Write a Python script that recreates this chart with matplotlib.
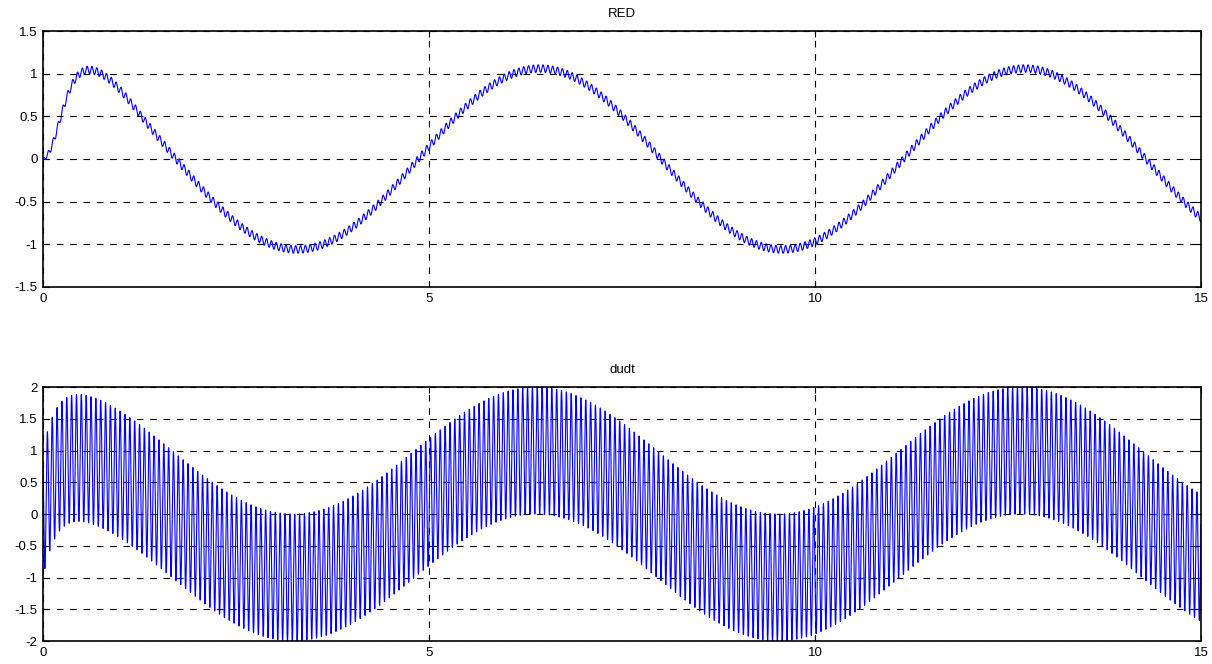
import numpy as np
import matplotlib
matplotlib.use("Agg")
import matplotlib.pyplot as plt

# signal parameters
t_end = 15.0
hf_freq = 100.0            # rad/s, ~0.063 per ripple period

red_amp = 1.06             # slow part of RED
red_lag = 0.15             # troughs at ~3.3, peaks at ~6.45, ends at ~-0.7
red_rise = 0.3             # start-up from 0 to ~1 within t~0.45
red_bump = 0.13            # early overshoot, largest near t~0.8
red_ripple = 0.045         # small ripple on RED

dudt_amp = 1.0             # slow part of dudt (envelope centre)
dudt_lag = 0.1
dudt_rise = 0.16
dudt_hf_amp = 1.0          # envelope spans +-1 around the centre
dudt_hf_phase = 2.24       # starts at ~0.8, first dip ~-0.9

red_yticks = [-1.5, -1, -0.5, 0, 0.5, 1, 1.5]
dudt_yticks = [-2, -1.5, -1, -0.5, 0, 0.5, 1, 1.5, 2]
xticks = [0, 5, 10, 15]

t = np.linspace(0, t_end, 15001)
red = (red_amp * np.cos(t - red_lag) * (1 - np.exp(-(t / red_rise) ** 2))
       + red_bump * np.exp(-((t - 0.8) / 0.45) ** 2)
       + red_ripple * np.sin(hf_freq * t + 1.0) * (1 - np.exp(-t / 0.05)))
dudt = (dudt_amp * np.cos(t - dudt_lag) * (1 - np.exp(-t / dudt_rise))
        + dudt_hf_amp * np.sin(hf_freq * t + dudt_hf_phase))

plt.rcParams['font.family'] = ['Liberation Sans', 'DejaVu Sans']

fig = plt.figure(figsize=(12.12, 6.64), dpi=100)
ax1 = fig.add_axes([0.0355, 0.5678, 0.9554, 0.3855])
ax2 = fig.add_axes([0.0355, 0.0346, 0.9554, 0.3825])

for ax, y, yt, title in [(ax1, red, red_yticks, 'RED'), (ax2, dudt, dudt_yticks, 'dudt')]:
    ax.plot(t, y, color='#0000ff', linewidth=0.8)
    ax.set_xlim(0, t_end)
    ax.set_ylim(yt[0], yt[-1])
    ax.set_xticks(xticks)
    ax.set_yticks(yt)
    ax.set_yticklabels(['%g' % v for v in yt])
    ax.grid(True, color='black', linestyle=(0, (6, 6)), linewidth=0.8)
    ax.tick_params(direction='in', length=4, labelsize=9.5, top=True, right=True, pad=4)
    for s in ax.spines.values():
        s.set_linewidth(1.2)
    ax.set_title(title, fontsize=9.5, pad=10)

fig.savefig('out.png', dpi=100)
